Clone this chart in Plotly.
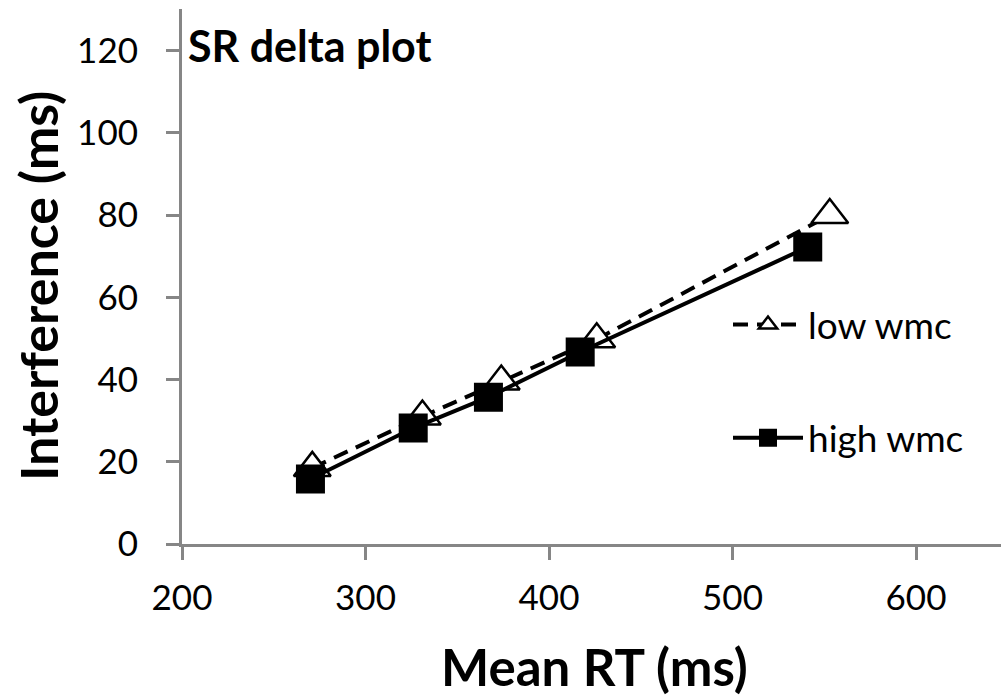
import plotly.graph_objects as go

# Data
low_rt = [271, 331, 374, 426, 553]
low_int = [18.5, 31.0, 39.5, 49.8, 80.0]
high_rt = [270, 326, 367, 417, 541]
high_int = [15.8, 28.2, 35.7, 46.7, 72.2]

x_ticks = [200, 300, 400, 500, 600]
y_ticks = [0, 20, 40, 60, 80, 100, 120]

FONT = "Lato"
AXIS_COLOR = "#868686"

fig = go.Figure()
fig.add_trace(go.Scatter(
    x=low_rt, y=low_int, name="low wmc", mode="lines+markers",
    legendgroup="a",
    line=dict(color="black", width=4, dash="15px,9px"),
    marker=dict(symbol="triangle-up", size=32, color="white",
                line=dict(color="black", width=2.5)),
))
fig.add_trace(go.Scatter(
    x=high_rt, y=high_int, name="high wmc", mode="lines+markers",
    legendgroup="b",
    line=dict(color="black", width=4),
    marker=dict(symbol="square", size=27, color="black",
                line=dict(color="black", width=2)),
))

L, R, T, B = 182, 0, 9, 152
W, H = 1001, 696
pw = W - L - R
ph = H - T - B

def px_x(p):
    return (p - L) / pw

def px_y(p):
    return (H - B - p) / ph

fig.update_layout(
    width=W, height=H,
    margin=dict(l=L, r=R, t=T, b=B),
    paper_bgcolor="white", plot_bgcolor="white",
    font=dict(family=FONT, color="black", size=35),
    showlegend=True,
    legend=dict(
        x=px_x(728), xanchor="left", y=px_y(294), yanchor="top",
        font=dict(size=37, family=FONT, color="black"),
        itemwidth=70, tracegroupgap=62, bgcolor="rgba(0,0,0,0)",
        traceorder="grouped",
    ),
    xaxis=dict(
        range=[200, 200 + pw / 1.835], tickvals=x_ticks,
        showgrid=False, zeroline=False,
        showline=True, linecolor=AXIS_COLOR, linewidth=3,
        ticks="outside", ticklen=13, tickwidth=3, tickcolor=AXIS_COLOR,
        tickfont=dict(size=35, family=FONT, color="black"),
        ticklabelstandoff=8,
    ),
    yaxis=dict(
        range=[0, 130.1], tickvals=y_ticks,
        showgrid=False, zeroline=False,
        showline=True, linecolor=AXIS_COLOR, linewidth=3,
        ticks="outside", ticklen=13, tickwidth=3, tickcolor=AXIS_COLOR,
        tickfont=dict(size=35, family=FONT, color="black"),
        ticklabelstandoff=21,
    ),
    annotations=[
        dict(text="<b>SR delta plot</b>", xref="paper", yref="paper",
             x=px_x(186), y=px_y(45), xanchor="left", yanchor="middle",
             showarrow=False, font=dict(size=43, family=FONT, color="black")),
        dict(text="<b>Mean RT (ms)</b>", xref="paper", yref="paper",
             x=px_x(594), y=px_y(666), xanchor="center", yanchor="middle",
             showarrow=False, font=dict(size=51, family=FONT, color="black")),
        dict(text="<b>Interference (ms)</b>", xref="paper", yref="paper",
             x=px_x(38), y=px_y(286), xanchor="center", yanchor="middle",
             textangle=-90,
             showarrow=False, font=dict(size=52, family=FONT, color="black")),
    ],
)

fig.write_html("out.html")
